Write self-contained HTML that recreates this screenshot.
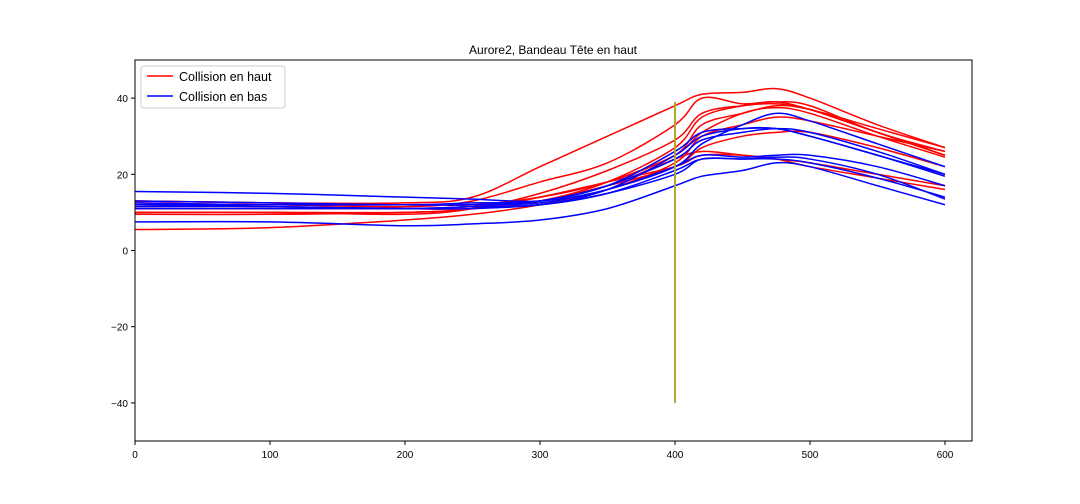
<!DOCTYPE html>
<html><head><meta charset="utf-8"><style>
body{margin:0;background:#fff;}
svg{display:block;font-family:"Liberation Sans","DejaVu Sans",sans-serif;}
</style></head><body>
<svg id="chart" width="1080" height="504">
<rect x="0" y="0" width="1080" height="504" fill="#fff"/>
<text x="553" y="54" text-anchor="middle" font-size="12">Aurore2, Bandeau Tête en haut</text>
<g id="plot"></g>
<g id="axes"></g>
<g id="legend">
<rect x="141" y="66" width="144" height="42" fill="#fff" stroke="#ccc" rx="3"/>
<line x1="147" y1="76" x2="173" y2="76" stroke="#f00" stroke-width="1.5"/>
<text x="179" y="81" font-size="12.5">Collision en haut</text>
<line x1="147" y1="96" x2="173" y2="96" stroke="#00f" stroke-width="1.5"/>
<text x="179" y="101" font-size="12.5">Collision en bas</text>
</g>
</svg>
<script>
const xSamples=[0,100,200,250,300,350,400,420,450,475,500,550,600];
const redSeries=[
[13,12.5,12.5,14,22,30,38,41,41.5,42.5,40,33,27],
[12,12,11.5,13,18,23,33,40,38.5,39,37,31,25],
[10,10,9.5,11,15,21,29,36,38,38.5,37,31,25],
[12,11.5,11,11,13,18,27,35,38,39,38,31,26],
[9.5,9.5,10,11,14,18,25,33,36,38,37,32,27],
[5.5,6,8,9.5,12,16,23,30,33,35,34,30,26],
[12.5,12,12,12,13,17,24,26,25,24,22,19,16],
[11,11,11,11.5,13,17,22,27,30,31,31,27,22],
[13,12.5,12,12,14,18,25,31,36,37.5,36,30,24.5],
[10,10,10,11,14,18,22,25,25,24,23,20,17]];
const blueSeries=[
[15.5,15,14,13.5,13,16,22,25,24.5,25,25,22,17],
[7.5,7.5,6.5,7,8,11,17,19.5,21,23,22,17,12],
[12,11.5,11,11.5,12,15,21,24,24,24,23,19,14],
[12.5,12,12,12,13,17,24,29,31,32,31,26,20],
[11,11,11,11.5,12,16,25,30,32,32,30,25,20],
[12,12,12,12,12.5,16,22,28,33,36,34,28,22],
[13,12.5,12,12.5,13,17,26,31,32,32,30,25,19.5],
[11.5,11.5,11,11,12,15,20,24,24,24.5,24,20,13.5]];
const markerX=400, markerY=[39,-40];
const xTicks=[0,100,200,300,400,500,600];
const yTicks=[-40,-20,0,20,40];
const yTickLabels=["−40","−20","0","20","40"];
const NS="http://www.w3.org/2000/svg";
const L=135,R=972,T=60,B=441,xMin=0,xMax=620,yMin=-50,yMax=50;
const sx=v=>L+(v-xMin)/(xMax-xMin)*(R-L);
const sy=v=>B-(v-yMin)/(yMax-yMin)*(B-T);
function pathFor(ys){
  const p=xSamples.map((x,i)=>[sx(x),sy(ys[i])]);
  let d="M"+p[0][0]+","+p[0][1];
  for(let i=0;i<p.length-1;i++){
    const p0=p[Math.max(i-1,0)],p1=p[i],p2=p[i+1],p3=p[Math.min(i+2,p.length-1)];
    d+=" C"+(p1[0]+(p2[0]-p0[0])/6)+","+(p1[1]+(p2[1]-p0[1])/6)+" "+(p2[0]-(p3[0]-p1[0])/6)+","+(p2[1]-(p3[1]-p1[1])/6)+" "+p2[0]+","+p2[1];
  }
  return d;
}
const plot=document.getElementById('plot');
function addLine(ys,color,name){
  const e=document.createElementNS(NS,'path');
  e.setAttribute('d',pathFor(ys));e.setAttribute('fill','none');
  e.setAttribute('stroke',color);e.setAttribute('stroke-width','1.5');
  
  
  plot.appendChild(e);
}
redSeries.forEach((s,i)=>addLine(s,'#ff0000','series-haut-'+(i+1)));
blueSeries.forEach((s,i)=>addLine(s,'#0000ff','series-bas-'+(i+1)));
const m=document.createElementNS(NS,'line');
m.setAttribute('x1',sx(markerX));m.setAttribute('x2',sx(markerX));
m.setAttribute('y1',sy(markerY[0]));m.setAttribute('y2',sy(markerY[1]));
m.setAttribute('stroke','#b0a830');m.setAttribute('stroke-width','2');


plot.appendChild(m);
const ax=document.getElementById('axes');
const fr=document.createElementNS(NS,'rect');
fr.setAttribute('x',L);fr.setAttribute('y',T);fr.setAttribute('width',R-L);fr.setAttribute('height',B-T);
fr.setAttribute('fill','none');fr.setAttribute('stroke','#000');fr.setAttribute('stroke-width','1');


ax.appendChild(fr);
xTicks.forEach(v=>{
  const t=document.createElementNS(NS,'line');
  t.setAttribute('x1',sx(v));t.setAttribute('x2',sx(v));t.setAttribute('y1',B);t.setAttribute('y2',B+4);t.setAttribute('stroke','#000');
  
  
  ax.appendChild(t);
  const l=document.createElementNS(NS,'text');
  l.setAttribute('x',sx(v));l.setAttribute('y',B+17);l.setAttribute('text-anchor','middle');l.setAttribute('font-size','10');
  l.textContent=v;
  
  
  ax.appendChild(l);
});
yTicks.forEach((v,i)=>{
  const t=document.createElementNS(NS,'line');
  t.setAttribute('x1',L-4);t.setAttribute('x2',L);t.setAttribute('y1',sy(v));t.setAttribute('y2',sy(v));t.setAttribute('stroke','#000');
  
  
  ax.appendChild(t);
  const l=document.createElementNS(NS,'text');
  l.setAttribute('x',L-7);l.setAttribute('y',sy(v)+4);l.setAttribute('text-anchor','end');l.setAttribute('font-size','10');
  l.textContent=yTickLabels[i];
  
  
  ax.appendChild(l);
});
</script>
</body></html>
